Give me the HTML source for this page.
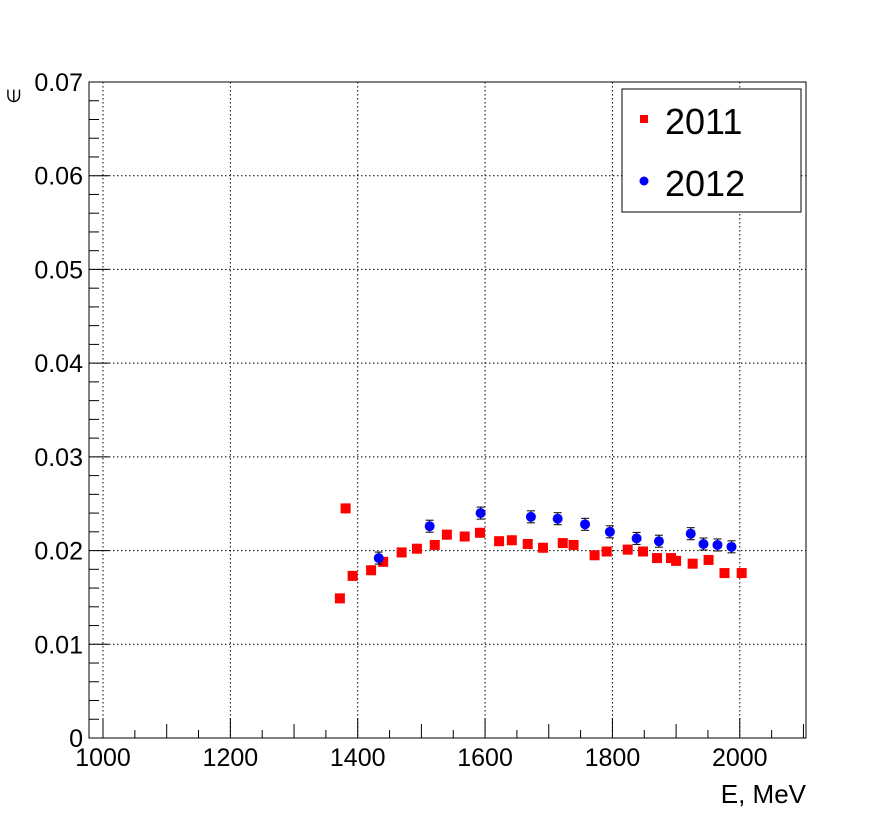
<!DOCTYPE html>
<html><head><meta charset="utf-8"><style>
body{margin:0;background:#fff;}
svg{display:block;font-family:"Liberation Sans",sans-serif;}
</style></head><body>
<svg id="c" width="896" height="820">
<rect x="0" y="0" width="896" height="820" fill="#fff"/>
<g id="grid"></g><g id="axes"></g><g id="marks"></g>
<rect x="89" y="82" width="717" height="656" fill="none" stroke="#000" stroke-width="1"/>
<text x="20" y="88" font-size="18" transform="rotate(-90 20 88)" text-anchor="end">∈</text>
<text x="806" y="803" font-size="26" text-anchor="end">E, MeV</text>
<g>
<rect x="622" y="89" width="179" height="123" fill="#fff" stroke="#000"/>
<g><rect x="640" y="115" width="8" height="8" fill="#f00"/><text x="665" y="134" font-size="36">2011</text></g>
<g><circle cx="644" cy="181" r="4.5" fill="#00f"/><text x="665" y="196" font-size="36">2012</text></g>
</g>
</svg>
<script>
const e2011=[1372,1381,1392,1421,1440,1469,1493,1521,1540,1568,1592,1622,1642,1667,1691,1722,1739,1772,1791,1824,1848,1870,1892,1900,1926,1951,1976,2003];
const v2011=[0.0149,0.0245,0.0173,0.0179,0.0188,0.0198,0.0202,0.0206,0.0217,0.0215,0.0219,0.0210,0.0211,0.0207,0.0203,0.0208,0.0206,0.0195,0.0199,0.0201,0.0199,0.0192,0.0192,0.0189,0.0186,0.0190,0.0176,0.0176];
const e2012=[1433,1513,1593,1672,1714,1757,1796,1838,1873,1923,1943,1965,1987];
const v2012=[0.0192,0.0226,0.0240,0.0236,0.0234,0.0228,0.0220,0.0213,0.0210,0.0218,0.0207,0.0206,0.0204];
const xTicks=[1000,1200,1400,1600,1800,2000];
const yTicks=[0,0.01,0.02,0.03,0.04,0.05,0.06,0.07];
const yLabels=["0","0.01","0.02","0.03","0.04","0.05","0.06","0.07"];
const X0=978,X1=2104,Y0=0,Y1=0.07;
const L=89,R=806,T=82,B=738;
const sx=v=>L+(v-X0)/(X1-X0)*(R-L);
const sy=v=>B-(v-Y0)/(Y1-Y0)*(B-T);
const NS="http://www.w3.org/2000/svg";
function mk(tag,attrs,parent){const e=document.createElementNS(NS,tag);for(const k in attrs)e.setAttribute(k,attrs[k]);parent.appendChild(e);return e;}
const grid=document.getElementById('grid'),axes=document.getElementById('axes'),marks=document.getElementById('marks');
xTicks.forEach(t=>{const x=sx(t);
 const g=mk('line',{x1:x,x2:x,y1:T,y2:B,stroke:'#000','stroke-dasharray':'1.5,2.5','stroke-width':1},grid);
 
 
 const tx=mk('text',{x:x,y:766,'font-size':25,'text-anchor':'middle'},axes);tx.textContent=t;
 
 
});
for(let v=1000;v<=2100;v+=50){const x=sx(v);const len=v%200===0?20:(v%100===0?14:8);
 mk('line',{x1:x,x2:x,y1:B,y2:B-len,stroke:'#000'},axes);}
yTicks.forEach((t,i)=>{const y=sy(t);
 if(i>0&&i<yTicks.length-1){const g=mk('line',{x1:L,x2:R,y1:y,y2:y,stroke:'#000','stroke-dasharray':'1.5,2.5','stroke-width':1},grid);
 
 }
 const tx=mk('text',{x:83,y:y+9,'font-size':25,'text-anchor':'end'},axes);tx.textContent=yLabels[i];
 
 
});
for(let k=0;k<=35;k++){const v=k*0.002;const y=sy(v);const len=k%5===0?20:10;
 mk('line',{x1:L,x2:L+len,y1:y,y2:y,stroke:'#000'},axes);}
e2011.forEach((e,i)=>{const x=sx(e),y=sy(v2011[i]);
 mk('line',{x1:x,x2:x,y1:y-5,y2:y+5,stroke:'#000'},marks);
 const r=mk('rect',{x:x-5,y:y-5,width:10,height:10,fill:'#f00'},marks);
 
 
});
e2012.forEach((e,i)=>{const x=sx(e),y=sy(v2012[i]);
 mk('line',{x1:x,x2:x,y1:y-6,y2:y+6,stroke:'#000'},marks);
 mk('line',{x1:x-4,x2:x+4,y1:y-6,y2:y-6,stroke:'#000'},marks);
 mk('line',{x1:x-4,x2:x+4,y1:y+6,y2:y+6,stroke:'#000'},marks);
 const c=mk('circle',{cx:x,cy:y,r:5,fill:'#00f'},marks);
 
 
});
</script>
</body></html>
